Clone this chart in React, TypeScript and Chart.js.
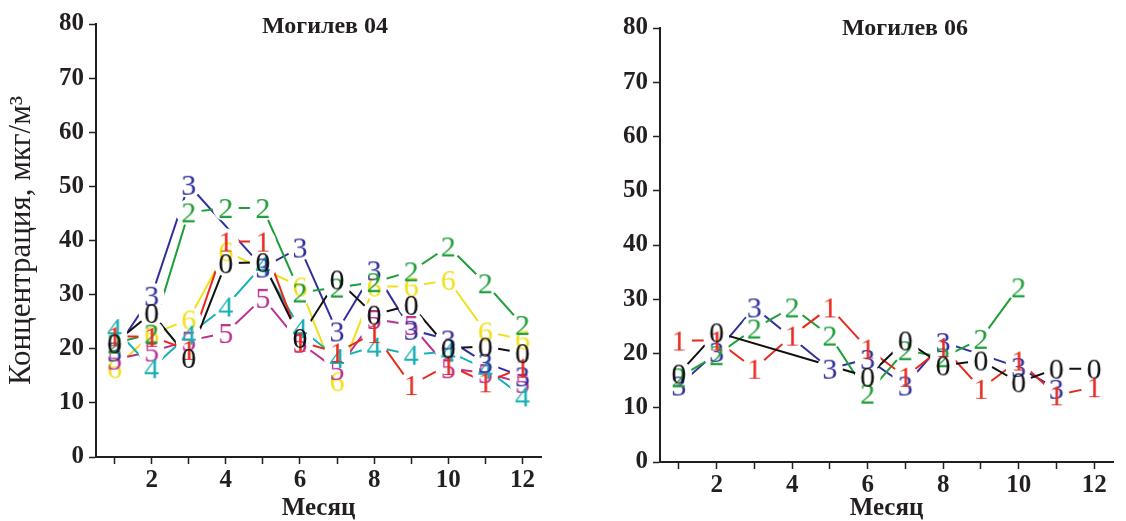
import React, { useEffect, useRef } from 'react';
import { Chart, registerables } from 'chart.js';

Chart.register(...registerables);

// ---------- data ----------
const months = [1, 2, 3, 4, 5, 6, 7, 8, 9, 10, 11, 12];
const xTickValues = [1, 2, 3, 4, 5, 6, 7, 8, 9, 10, 11, 12];
const yTickValues = [0, 5, 10, 15, 20, 25, 30, 35, 40, 45, 50, 55, 60, 65, 70, 75, 80];
const seriesDigits = ['0', '1', '2', '3', '4', '5', '6'];
const seriesColors = ['#111111', '#e8291c', '#1f9e3a', '#302f9c', '#17b0b4', '#bb2f91', '#f1df1d'];

// Могилев 04
const mog04_s0 = [21, 26.6, 18.3, 35.8, 36, 22, 32.8, 26.3, 28.1, 20.1, 20.4, 19.2];
const mog04_s1 = [22.3, 22.2, 19.8, 39.8, 39.8, 21.3, 19.3, 22.9, 13.3, 17, 13.8, 16.5];
const mog04_s2 = [21, 22.8, 45.2, 46, 46, 30.4, 31.3, 32.3, 34.3, 38.9, 32.1, 24.4];
const mog04_s3 = [19.5, 29.8, 50.3, null, 35, 38.7, 23.2, 34.5, 23.5, 21.7, 17.4, 14.9];
const mog04_s4 = [23.8, 16.4, 22.6, 27.8, 35.5, 23.8, 18.3, 20.4, 18.9, 19.5, 16.3, 11.2];
const mog04_s5 = [18, 19.5, 21.5, 22.9, 29.4, 21.1, 16.1, 25.5, 24.4, 16.4, 15.5, 13.7];
const mog04_s6 = [16.4, 22.6, 25.4, 38, null, 31.5, 14, 31.5, 31.5, 32.7, 23.2, 21.7];

// Могилев 06
const mog06_s0 = [16.3, 23.9, null, null, null, 15.7, 22.4, 17.8, 18.7, 14.7, 17.2, 17.2];
const mog06_s1 = [22.4, 22.4, 17.2, 23.3, 28.5, 20.9, 15.7, 21.2, 13.5, 18.7, 12.3, 13.8];
const mog06_s2 = [15.6, 19.7, 24.6, 28.5, 23.3, 12.6, 20.6, 19.3, 22.7, 32.2, null, null];
const mog06_s3 = [14.1, 20.3, 28.5, null, 17.2, 19.0, 14.1, 22.1, null, 17.5, 13.5, null];

const title04 = 'Могилев 04';
const title06 = 'Могилев 06';
const xTitle = 'Месяц';
const yTitle = 'Концентрация, мкг/м³';

const AXIS_COLOR = '#231f20';
const SERIF = '"Liberation Serif", "Times New Roman", serif';
const DIGIT_SIZE = 30;

function makeDigit(d: string, color: string): HTMLCanvasElement {
  const c = document.createElement('canvas');
  c.width = 22;
  c.height = 30;
  const ctx = c.getContext('2d')!;
  ctx.font = `${DIGIT_SIZE}px ${SERIF}`;
  ctx.fillStyle = color;
  ctx.textAlign = 'center';
  ctx.textBaseline = 'alphabetic';
  ctx.fillText(d, 11, 15 + 0.33 * DIGIT_SIZE);
  return c;
}

const titlePlugin = {
  id: 'panelTitle',
  afterDraw(chart: any, _args: any, opts: any) {
    const ctx = chart.ctx;
    ctx.save();
    ctx.font = `bold 24px ${SERIF}`;
    ctx.fillStyle = AXIS_COLOR;
    ctx.textAlign = 'center';
    ctx.textBaseline = 'middle';
    ctx.fillText(opts.text, opts.x, opts.y);
    ctx.restore();
  },
};

type PanelProps = {
  left: number;
  width: number;
  series: (number | null)[][];
  title: string;
  titleX: number;
  titleY: number;
  showYTitle: boolean;
  padTop: number;
  padRight: number;
  yAxisWidth: number;
  xAxisHeight: number;
};

function Panel(p: PanelProps) {
  const ref = useRef<HTMLCanvasElement | null>(null);
  useEffect(() => {
    if (!ref.current) return;
    const datasets: any[] = [];
    p.series.forEach((arr, i) => {
      const pts = arr.map((v, k) => ({ x: months[k], y: v }));
      datasets.push({
        data: pts,
        borderColor: seriesColors[i],
        borderWidth: 2,
        pointRadius: 0,
        spanGaps: true,
        fill: false,
        tension: 0,
        order: 3,
      });
      datasets.push({
        data: pts,
        showLine: false,
        pointStyle: 'circle',
        pointRadius: 13,
        pointBackgroundColor: '#ffffff',
        pointBorderColor: '#ffffff',
        pointBorderWidth: 0,
        order: 2,
      });
      datasets.push({
        data: pts,
        showLine: false,
        pointStyle: makeDigit(seriesDigits[i], seriesColors[i]),
        pointRadius: 10,
        order: 1,
      });
    });

    const chart = new Chart(ref.current, {
      type: 'line',
      data: { datasets },
      plugins: [titlePlugin as any],
      options: {
        animation: false,
        responsive: false,
        events: [],
        layout: { padding: { top: p.padTop, right: p.padRight, left: 0, bottom: 0 } },
        plugins: {
          legend: { display: false },
          tooltip: { enabled: false },
          panelTitle: { text: p.title, x: p.titleX, y: p.titleY },
        } as any,
        scales: {
          x: {
            type: 'linear',
            min: 0.5,
            max: 12.5,
            afterBuildTicks: (s: any) => {
              s.ticks = xTickValues.map((v) => ({ value: v }));
            },
            afterFit: (s: any) => {
              s.height = p.xAxisHeight;
            },
            ticks: {
              autoSkip: false,
              maxRotation: 0,
              padding: 2,
              color: AXIS_COLOR,
              font: { family: SERIF, size: 25, weight: 'bold' },
              callback: (v: any) => (Number(v) % 2 === 0 ? String(v) : ''),
            },
            grid: {
              drawOnChartArea: false,
              drawTicks: true,
              tickLength: 7,
              tickWidth: 1.5,
              tickColor: AXIS_COLOR,
            },
            border: { display: true, color: AXIS_COLOR, width: 2 },
            title: {
              display: true,
              text: xTitle,
              color: AXIS_COLOR,
              font: { family: SERIF, size: 25, weight: 'bold', lineHeight: 1 },
              padding: { top: 0, bottom: 0 },
            },
          },
          y: {
            type: 'linear',
            min: 0,
            max: 80,
            afterBuildTicks: (s: any) => {
              s.ticks = yTickValues.map((v) => ({ value: v }));
            },
            afterFit: (s: any) => {
              s.width = p.yAxisWidth;
            },
            ticks: {
              padding: 5,
              color: AXIS_COLOR,
              font: { family: SERIF, size: 25, weight: 'bold' },
              callback: (v: any) => (Number(v) % 10 === 0 ? String(v) : ''),
            },
            grid: {
              drawOnChartArea: false,
              drawTicks: true,
              tickLength: 7,
              tickWidth: 1.5,
              tickColor: AXIS_COLOR,
            },
            border: { display: true, color: AXIS_COLOR, width: 2 },
            title: {
              display: p.showYTitle,
              text: yTitle,
              color: AXIS_COLOR,
              font: { family: SERIF, size: 31, weight: 'normal', lineHeight: 1.2 },
              padding: { top: 3, bottom: 0 },
            },
          },
        },
      } as any,
    });
    return () => chart.destroy();
  }, []);

  return (
    <canvas
      ref={ref}
      width={p.width}
      height={521}
      style={{ position: 'absolute', left: p.left, top: 0, width: p.width, height: 521 }}
    />
  );
}

export default function App() {
  return (
    <div style={{ position: 'absolute', left: 0, top: 0, width: 1126, height: 521, background: '#ffffff', overflow: 'hidden' }}>
      <Panel
        left={0}
        width={560}
        series={[mog04_s0, mog04_s1, mog04_s2, mog04_s3, mog04_s4, mog04_s5, mog04_s6]}
        title={title04}
        titleX={325}
        titleY={27}
        showYTitle={true}
        padTop={24}
        padRight={19}
        yAxisWidth={96}
        xAxisHeight={64}
      />
      <Panel
        left={560}
        width={566}
        series={[mog06_s0, mog06_s1, mog06_s2, mog06_s3]}
        title={title06}
        titleX={345}
        titleY={29}
        showYTitle={false}
        padTop={28}
        padRight={10}
        yAxisWidth={100}
        xAxisHeight={59}
      />
    </div>
  );
}
